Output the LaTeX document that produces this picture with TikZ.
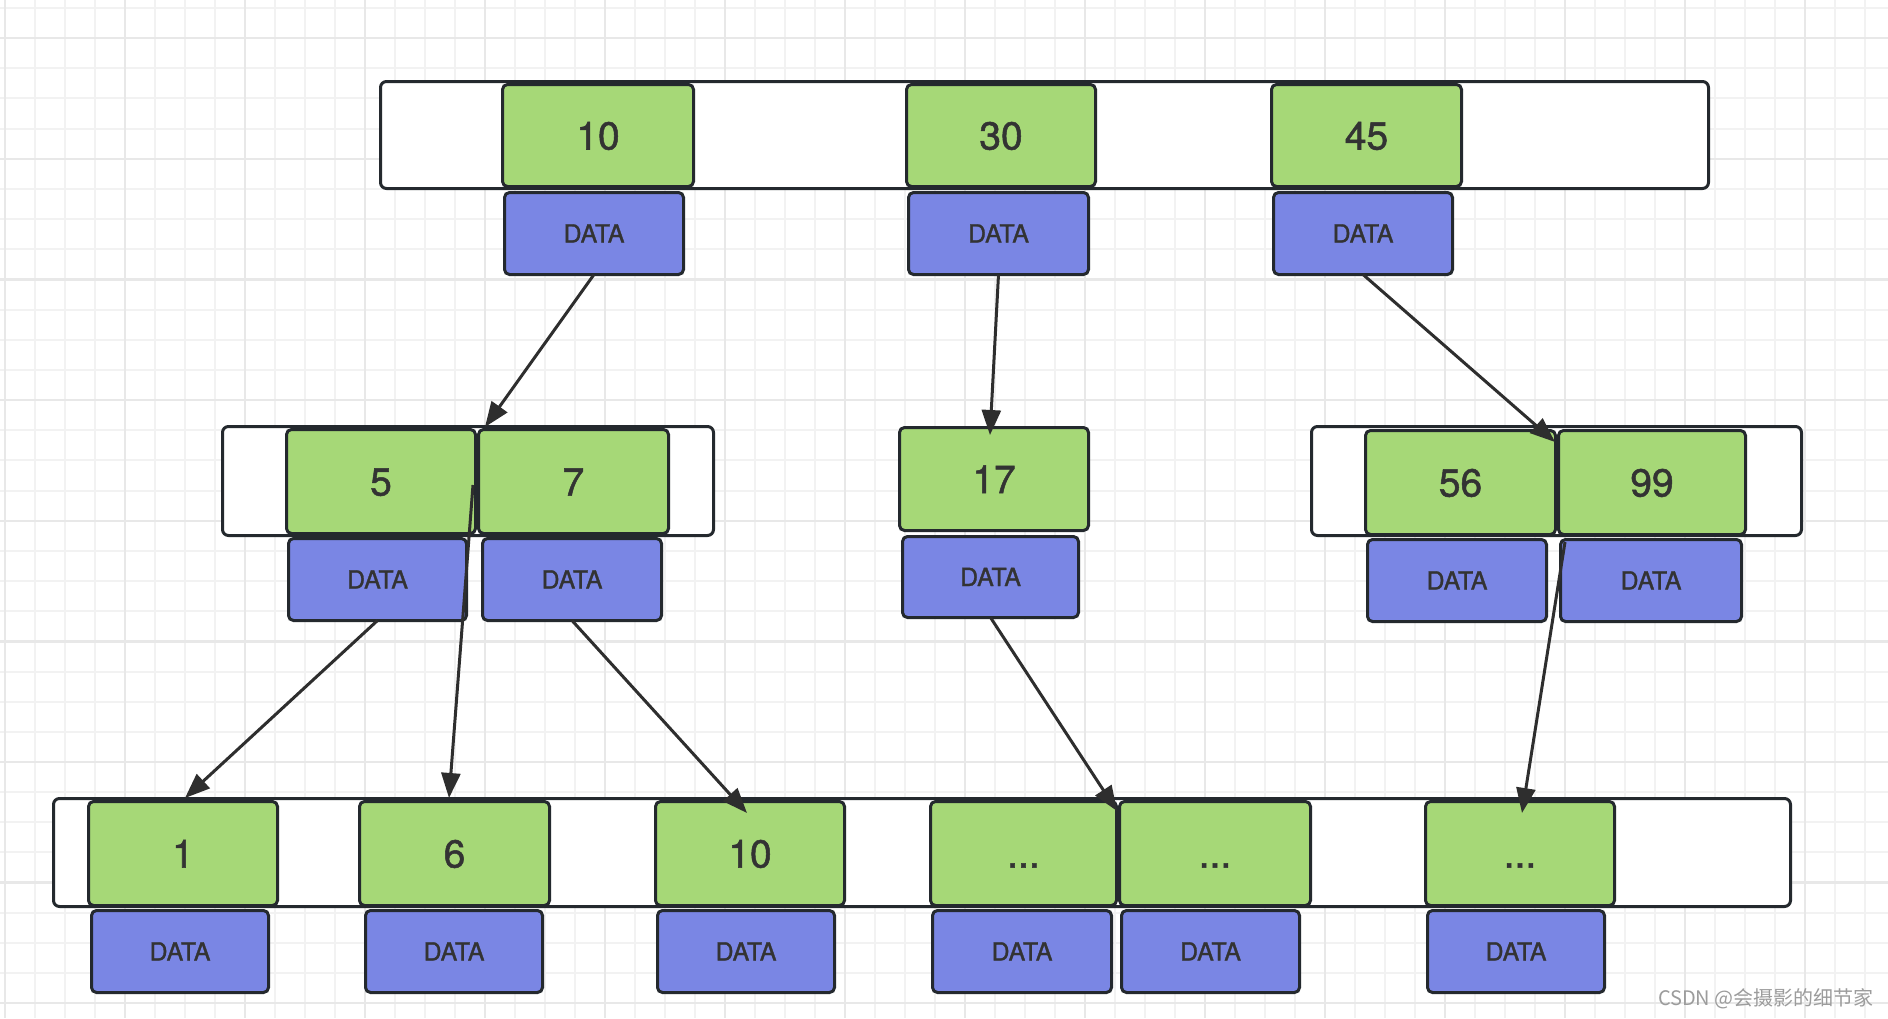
\documentclass[tikz,border=0pt]{standalone}
\usepackage{fontspec}
\setmainfont{TeX Gyre Heros}
\newfontfamily\boxfont[FakeBold=1.3]{TeX Gyre Heros}
\newfontfamily\cjkfont{Noto Sans CJK SC}
\usetikzlibrary{arrows.meta}
\definecolor{bordc}{HTML}{24292E}
\definecolor{keyg}{HTML}{A6D877}
\definecolor{datab}{HTML}{7A86E4}
\definecolor{txtc}{HTML}{333333}
\definecolor{arrc}{HTML}{2E2E2E}
\definecolor{gthin}{HTML}{F2F2F2}
\definecolor{gthick}{HTML}{E8E8E8}
\definecolor{wmark}{HTML}{9C9C9C}
\tikzset{
  cont/.style={draw=bordc, fill=white, rounded corners=6pt, line width=3pt, inner sep=0pt, outer sep=0pt},
  keybox/.style={draw=bordc, fill=keyg, rounded corners=5pt, line width=3pt, inner sep=0pt, outer sep=0pt,
    text=txtc, font=\boxfont\fontsize{39}{39}\selectfont, text height=28pt, text depth=0pt},
  databox/.style={draw=bordc, fill=datab, rounded corners=5pt, line width=3pt, inner sep=0pt, outer sep=0pt,
    text=txtc, font=\boxfont\fontsize{25}{25}\selectfont, text height=18pt, text depth=0pt},
  arr/.style={draw=arrc, line width=3pt, -{Triangle[length=25pt,width=19pt]}},
  gridthin/.style={draw=gthin, line width=2pt},
  gridthick/.style={draw=gthick, line width=2.4pt}
}
\newcommand\bx[7]{\node[#1, minimum width={#4-#3-3}, minimum height={#6-#5-3}] (#2) at ({(#3+#4)/2},{(#5+#6)/2}) {#7};}
\begin{document}
\begin{tikzpicture}[x=1pt,y=-1pt]
\useasboundingbox (0,0) rectangle (1888,1018);
\fill[white] (0,0) rectangle (1888,1018);
% grid
\foreach \k in {0,...,62} { \draw[gridthin] ({5+30*\k},0) -- ({5+30*\k},1018); }
\foreach \k in {0,...,33} { \draw[gridthin] (0,{8+30.16*\k}) -- (1888,{8+30.16*\k}); }
\foreach \k in {0,...,15} { \draw[gridthick] ({5+120*\k},0) -- ({5+120*\k},1018); }
\foreach \k in {0,...,8} { \draw[gridthick] (0,{38.16+120.64*\k}) -- (1888,{38.16+120.64*\k}); }
% containers
\bx{cont}{top}{379}{1710}{80}{190}{}
\bx{cont}{midL}{221}{715}{425}{537}{}
\bx{cont}{midR}{1310}{1803}{425}{537}{}
\bx{cont}{bot}{52}{1792}{797}{908}{}
% top level
\bx{keybox}{g10}{501}{695}{83}{188}{10}
\bx{keybox}{g30}{905}{1097}{83}{188}{30}
\bx{keybox}{g45}{1270}{1463}{83}{188}{45}
\bx{databox}{d10}{503}{685}{191}{276}{DATA}
\bx{databox}{d30}{907}{1090}{191}{276}{DATA}
\bx{databox}{d45}{1272}{1454}{191}{276}{DATA}
% middle level
\bx{keybox}{g5}{285}{477}{428}{535}{5}
\bx{keybox}{g7}{477}{670}{428}{535}{7}
\bx{keybox}{g17}{898}{1090}{426}{532}{17}
\bx{keybox}{g56}{1364}{1557}{429}{536}{56}
\bx{keybox}{g99}{1557}{1747}{429}{536}{99}
\bx{databox}{d5}{287}{468}{537}{622}{DATA}
\bx{databox}{d7}{481}{663}{537}{622}{DATA}
\bx{databox}{d17}{901}{1080}{535}{619}{DATA}
\bx{databox}{d56}{1366}{1548}{538}{623}{DATA}
\bx{databox}{d99}{1559}{1743}{538}{623}{DATA}
% bottom level
\bx{keybox}{g1}{87}{279}{800}{907}{1}
\bx{keybox}{g6}{358}{551}{800}{907}{6}
\bx{keybox}{g10b}{654}{846}{800}{907}{10}
\bx{keybox}{ga}{929}{1118}{800}{907}{...}
\bx{keybox}{gb}{1118}{1312}{800}{907}{...}
\bx{keybox}{gc}{1424}{1616}{800}{907}{...}
\bx{databox}{d1}{90}{270}{909}{994}{DATA}
\bx{databox}{d6}{364}{544}{909}{994}{DATA}
\bx{databox}{d10b}{656}{836}{909}{994}{DATA}
\bx{databox}{da}{931}{1113}{909}{994}{DATA}
\bx{databox}{db}{1120}{1301}{909}{994}{DATA}
\bx{databox}{dc}{1426}{1606}{909}{994}{DATA}
% arrow ends
\coordinate (t1) at (485,427);
\coordinate (t2) at (990,435);
\coordinate (t3) at (1555,442);
\coordinate (t4) at (185,798);
\coordinate (s5) at (473,485);
\coordinate (t5) at (449,798);
\coordinate (t6) at (747,813);
\coordinate (t7) at (1117,811);
\coordinate (s8) at (1565,542);
\coordinate (t8) at (1522,813);
\draw[arr] (d10.south) -- (t1);
\draw[arr] (d30.south) -- (t2);
\draw[arr] (d45.south) -- (t3);
\draw[arr] (d5.south) -- (t4);
\draw[arr] (s5) -- (t5);
\draw[arr] (d7.south) -- (t6);
\draw[arr] (d17.south) -- (t7);
\draw[arr] (s8) -- (t8);
% watermark
\node[anchor=east, inner sep=0pt, text=wmark, font=\cjkfont\fontsize{20}{20}\selectfont] (wm) at (1874,999) {CSDN @会摄影的细节家};
\end{tikzpicture}
\end{document}
